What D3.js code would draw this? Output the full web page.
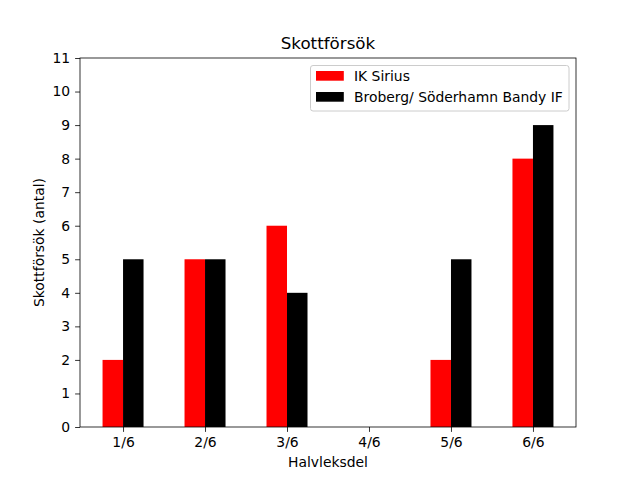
<!DOCTYPE html>
<meta charset="utf-8">
<script src="https://d3js.org/d3.v7.min.js"></script>
<style>
  body { margin: 0; background: #fff; }
  text { font-family: "DejaVu Sans", sans-serif; fill: #000; }
</style>
<div id="chart"></div>
<script>
// data
var categories = ["1/6", "2/6", "3/6", "4/6", "5/6", "6/6"];
var seriesNames = ["IK Sirius", "Broberg/ Söderhamn Bandy IF"];
var siriusShots = [2, 5, 6, 0, 2, 8];
var brobergShots = [5, 5, 4, 0, 5, 9];
var yTicks = [0, 1, 2, 3, 4, 5, 6, 7, 8, 9, 10, 11];
var colors = ["#ff0000", "#000000"];

var W = 640, H = 480;
var margin = {top: 58, right: 64, bottom: 53, left: 80},
    width = W - margin.left - margin.right,
    height = H - margin.top - margin.bottom;

var svg = d3.select("#chart").append("svg")
    .attr("width", W).attr("height", H);

var g = svg.append("g")
    .attr("transform", "translate(" + margin.left + "," + margin.top + ")");

// bar width 0.25, bars sit on both sides of the category centre
var barW = 0.25;
var x = d3.scaleLinear()
    .domain([-0.525, 5.525])
    .range([0, width]);
var y = d3.scaleLinear()
    .domain([0, 11])
    .range([height, 0]);

var series = [siriusShots, brobergShots];
series.forEach(function(vals, si) {
    g.selectAll(".bar" + si)
        .data(vals)
        .enter().append("rect")
        .attr("x", function(d, i) { return x(i + (si - 1) * barW); })
        .attr("width", x(barW) - x(0))
        .attr("y", function(d) { return y(d); })
        .attr("height", function(d) { return y(0) - y(d); })
        .attr("fill", colors[si]);
});

// axes
var xAxis = g.append("g")
    .attr("transform", "translate(0," + height + ")")
    .call(d3.axisBottom(x)
        .tickValues(d3.range(categories.length))
        .tickFormat(function(d) { return categories[d]; })
        .tickSize(4.9).tickPadding(4.9).tickSizeOuter(0));
var yAxis = g.append("g")
    .call(d3.axisLeft(y)
        .tickValues(yTicks)
        .tickFormat(d3.format("d"))
        .tickSize(4.9).tickPadding(4.9).tickSizeOuter(0));

[xAxis, yAxis].forEach(function(a) {
    a.select(".domain").remove();
    a.selectAll("line").attr("stroke", "#000").attr("stroke-width", 0.8);
    a.selectAll("text").style("font-size", "13.9px").style("font-family", "DejaVu Sans");
});

// frame
g.append("rect")
    .attr("width", width).attr("height", height)
    .attr("fill", "none").attr("stroke", "#000").attr("stroke-width", 0.8);

// title and labels
svg.append("text")
    .attr("x", margin.left + width / 2).attr("y", 49)
    .attr("text-anchor", "middle")
    .style("font-size", "16.7px")
    .text("Skottförsök");
svg.append("text")
    .attr("x", margin.left + width / 2).attr("y", 467)
    .attr("text-anchor", "middle")
    .style("font-size", "13.9px")
    .text("Halvleksdel");
svg.append("text")
    .attr("transform", "translate(44," + (margin.top + height / 2) + ") rotate(-90)")
    .attr("text-anchor", "middle")
    .style("font-size", "13.9px")
    .text("Skottförsök (antal)");

// legend
var leg = svg.append("g");
leg.append("rect")
    .attr("x", 310.5).attr("y", 65.5)
    .attr("width", 258.5).attr("height", 45.5)
    .attr("rx", 2.5)
    .attr("fill", "#fff").attr("fill-opacity", 0.8)
    .attr("stroke", "#cccccc").attr("stroke-width", 1);
seriesNames.forEach(function(name, i) {
    var yy = 71 + i * 21;
    leg.append("rect")
        .attr("x", 316).attr("y", yy)
        .attr("width", 27.8).attr("height", 9.7)
        .attr("fill", colors[i]);
    leg.append("text")
        .attr("x", 354).attr("y", yy + 10)
        .style("font-size", "13.9px")
        .text(name);
});
</script>
